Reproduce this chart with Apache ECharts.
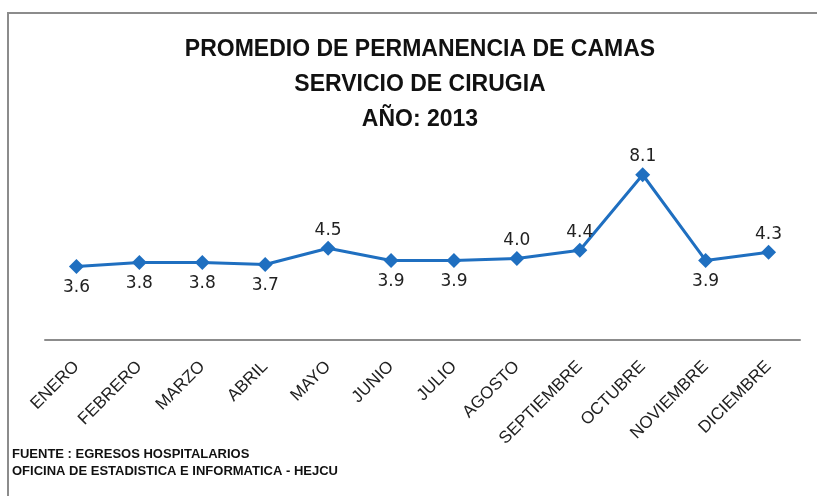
<!DOCTYPE html>
<html>
<head>
<meta charset="utf-8">
<script src="https://cdn.jsdelivr.net/npm/echarts@6/dist/echarts.min.js"></script>
<style>
  html, body { margin: 0; padding: 0; background: #fff; }
  #chart { width: 817px; height: 496px; }
</style>
</head>
<body>
<div id="chart"></div>
<script>
// datos del gráfico
const meses = ['ENERO', 'FEBRERO', 'MARZO', 'ABRIL', 'MAYO', 'JUNIO', 'JULIO', 'AGOSTO', 'SEPTIEMBRE', 'OCTUBRE', 'NOVIEMBRE', 'DICIEMBRE']
const promedio = [3.6, 3.8, 3.8, 3.7, 4.5, 3.9, 3.9, 4.0, 4.4, 8.1, 3.9, 4.3]
const tituloLineas = ['PROMEDIO DE PERMANENCIA DE CAMAS', 'SERVICIO DE CIRUGIA', 'AÑO: 2013']
const fuenteLineas = ['FUENTE : EGRESOS HOSPITALARIOS', 'OFICINA DE ESTADISTICA E INFORMATICA - HEJCU']

const chart = echarts.init(document.getElementById('chart'))

// etiquetas arriba o abajo según el valor
const serieData = promedio.map(v => {
  const arriba = v >= 4.0
  return {
    value: v,
    label: { position: arriba ? 'top' : 'bottom', distance: arriba ? 2 : 5 }
  }
})

const option = {
  backgroundColor: '#fff',
  animation: false,
  graphic: [
    {
      type: 'rect',
      shape: { x: 8, y: 13, width: 900, height: 600 },
      style: { fill: 'none', stroke: '#8c8c8c', lineWidth: 2 },
      silent: true
    },
    {
      // título centrado sobre el área del gráfico
      type: 'text',
      x: 420,
      y: 32,
      style: {
        text: tituloLineas.join('\n'),
        align: 'center',
        verticalAlign: 'top',
        fontFamily: 'Liberation Sans, sans-serif',
        fontWeight: 'bold',
        fontSize: 23,
        lineHeight: 35,
        fill: '#111'
      }
    },
    {
      type: 'text',
      left: 12,
      top: 446,
      style: {
        text: fuenteLineas.join('\n'),
        fontFamily: 'Liberation Sans, sans-serif',
        fontWeight: 'bold',
        fontSize: 13,
        lineHeight: 17,
        fill: '#111'
      }
    }
  ],
  grid: {
    left: 45,
    right: 17,
    top: 136,
    bottom: 156
  },
  xAxis: {
    type: 'category',
    data: meses,
    boundaryGap: true,
    axisLine: { lineStyle: { color: '#8c8c8c', width: 2 } },
    axisTick: { show: false },
    axisLabel: {
      rotate: 45,
      margin: 24,
      interval: 0,
      fontFamily: 'Liberation Sans, sans-serif',
      fontSize: 17,
      color: '#222'
    }
  },
  yAxis: {
    type: 'value',
    min: 0,
    max: 10,
    show: false,
    splitLine: { show: false }
  },
  series: [
    {
      type: 'line',
      data: serieData,
      symbol: 'diamond',
      symbolSize: [15, 15],
      lineStyle: { color: '#1f6fc0', width: 3 },
      itemStyle: { color: '#1f6fc0' },
      label: {
        show: true,
        formatter: p => p.value.toFixed(1),
        fontFamily: 'DejaVu Sans, Verdana, sans-serif',
        fontSize: 17,
        color: '#222'
      }
    }
  ]
}

chart.setOption(option)
</script>
</body>
</html>
